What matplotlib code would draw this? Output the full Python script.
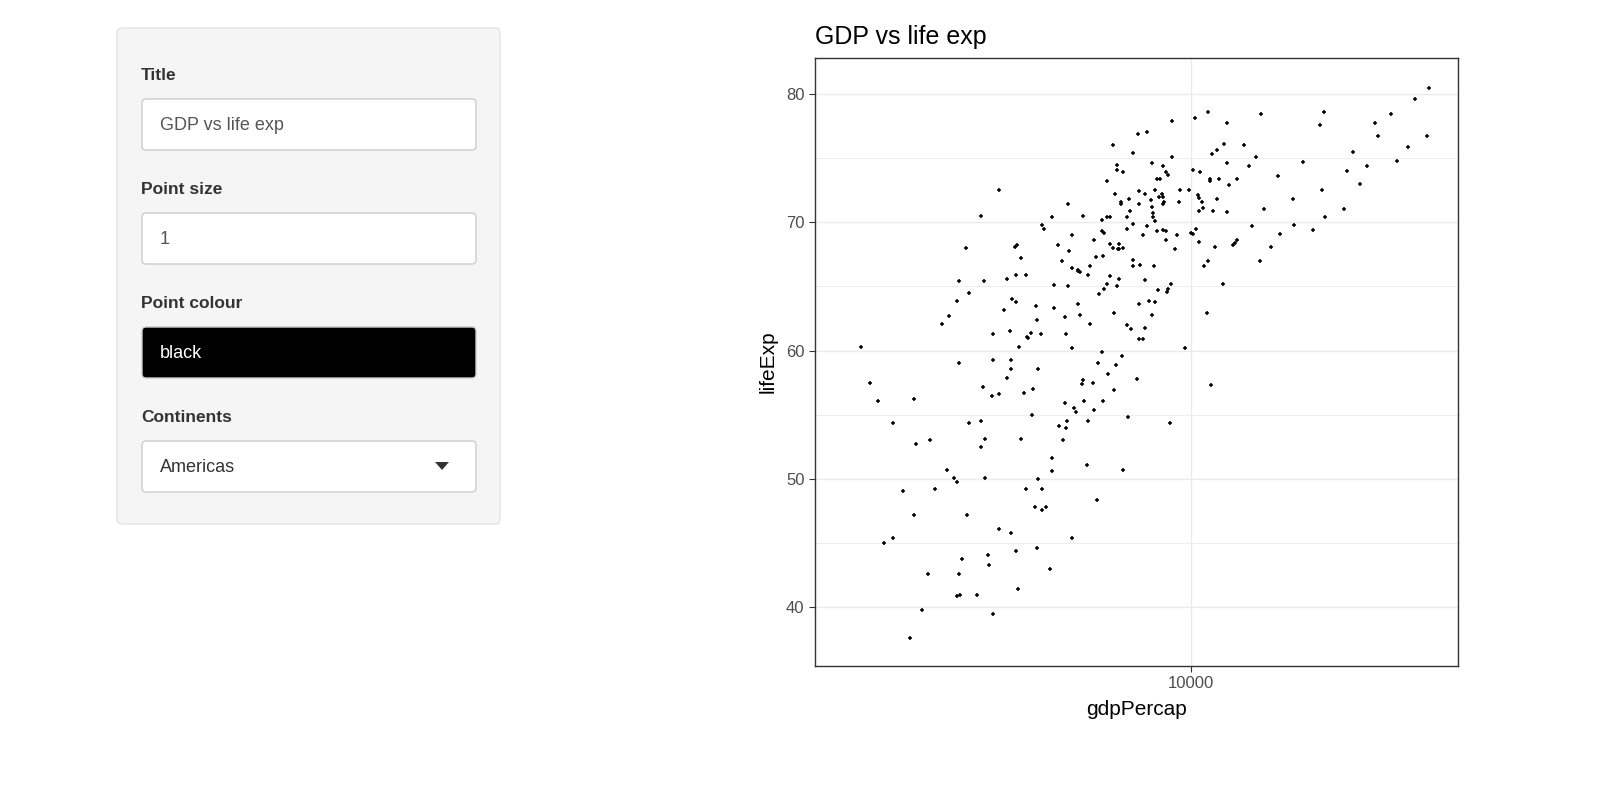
import matplotlib
matplotlib.use("Agg")
import matplotlib.pyplot as plt
from matplotlib.patches import FancyBboxPatch, Polygon

plt.rcParams["font.family"] = ["Liberation Sans", "DejaVu Sans"]

# values (Americas, gdpPercap vs lifeExp)
gdp_percap = [
    1330, 2420, 2990, 2990, 3340, 3340, 3250, 3500, 3680, 1410, 1480, 1840, 2800, 2960,
    3090, 3600, 1620, 2580, 2780, 3780, 1860, 2030, 2850, 2780, 3550, 2250, 2350, 2400,
    2850, 1720, 2090, 3660, 1840, 2550, 3090, 3340, 3430, 1530, 1620, 2470, 2900, 2920,
    2010, 2420, 2390, 2440, 2710, 3470, 1930, 2990, 1800,
    3090, 2780, 2530, 3410, 3460, 3550, 2420, 2820, 3250, 3440, 3660, 2570, 2400, 2280,
    2180, 3310, 3360, 3440, 3200,
    7250, 7660, 6220, 7030, 8920, 7890, 6370, 6370, 6610, 8450, 8610, 8700, 10150, 10590,
    11250, 11250, 11890, 11400, 11750, 12270, 12500, 12650, 12500, 5990, 8130, 8290, 6300,
    7290, 7560, 8040, 8390, 8240, 8460, 8500, 8460, 7890, 7850, 6530, 6530, 6850, 7290,
    9370, 9910, 10470, 10520, 10740, 10810, 9310, 10520, 11480, 4720, 5170, 4280, 4030,
    4090, 6900, 6770, 5820, 5990, 6100, 7030, 7950, 7950, 8040, 7650, 6770, 5820, 5900,
    8450, 8610, 8130, 7470, 9200, 10020, 10150, 10340, 10520, 8610, 9100, 11600, 11120,
    10860, 12190, 11070, 4840, 4450, 4750, 5540, 6110, 6220, 6400, 6470, 6610, 6470, 5610,
    5840, 7030, 7030, 7330, 8000, 4550, 4840, 5020, 5090, 5020, 5400, 5330, 6110, 6470,
    5990, 6370, 5900, 5710, 7560, 8180, 8630, 8700, 8890, 4340, 4720, 3880, 4340, 5020,
    5090, 3900, 4640, 5400, 6270, 7290, 7760, 8060, 7890, 6770, 6950, 7580, 7280, 7470,
    3770, 3700, 4010, 4670,
    9660, 4840, 5820, 6580, 3930, 5680, 6340, 6030, 7210, 5170, 5130, 5510, 3810, 6270,
    4640, 5210, 5850, 4900, 4950, 5540, 6820, 8820, 4690, 5330, 4470, 4660, 4580, 4280,
    5310, 6610, 4280, 3930, 4030, 5630,
    3850, 4040, 4130, 4840, 3910, 4230,
    43010, 39480, 34090, 30900, 31480, 42480, 37810, 35360, 29430, 27010, 26030, 28190,
    22620, 22080, 19890, 17080, 22350, 18720, 25560, 22760, 18830, 21150, 15670, 17290,
    16360, 15290, 14560, 15390, 13870, 14920, 14300, 13280, 12500, 11130, 10270, 11750,
    12960, 13090, 13280, 11330, 8920,
]
life_exp = [
    60.3, 59.0, 61.3, 59.3, 59.3, 58.6, 57.9, 60.3, 61.1, 57.5, 56.1, 56.2, 57.2, 56.5,
    56.6, 56.7, 54.4, 54.4, 54.5, 55.0, 52.7, 53.0, 53.1, 52.5, 53.1, 50.7, 50.1, 49.8,
    50.1, 49.1, 49.2, 49.2, 47.2, 47.2, 46.1, 45.8, 44.4, 45.0, 45.4, 43.8, 44.1, 43.3,
    42.6, 42.6, 40.9, 41.0, 41.0, 41.4, 39.8, 39.5, 37.6,
    72.5, 70.5, 68.0, 68.1, 68.2, 67.2, 65.4, 65.4, 65.6, 65.9, 65.9, 64.5, 63.9, 62.7,
    62.1, 61.5, 64.0, 63.8, 63.2,
    76.9, 77.0, 76.0, 75.4, 75.1, 74.6, 74.5, 74.1, 73.9, 74.4, 73.9, 73.7, 74.1, 73.9,
    73.4, 73.2, 73.4, 75.3, 75.6, 76.1, 74.6, 72.9, 70.8, 73.2, 73.4, 73.4, 72.2,
    72.4, 72.2, 72.5, 72.2, 72.0, 72.0, 71.6, 71.4, 71.2, 71.7, 71.6, 71.4, 71.8, 71.4,
    72.5, 72.5, 72.1, 71.9, 71.6, 71.1, 71.6, 70.9, 70.9, 71.4, 70.5, 70.4, 69.8,
    69.5, 70.9, 70.4, 70.2, 70.4, 70.4, 69.9, 70.7, 70.4, 70.1, 69.7, 69.5, 69.3, 69.2,
    69.4, 69.3, 69.3, 69.0, 69.0, 69.2, 69.1, 69.5, 68.5, 68.6, 67.9, 68.1, 67.0,
    66.6, 65.2, 62.9, 69.0, 68.2, 67.8, 68.6, 68.3, 68.0, 67.9, 67.9, 68.0, 68.3, 67.3,
    67.4, 67.1, 66.6, 66.7, 66.6, 67.0, 66.4, 66.3, 66.1, 66.2, 66.6, 65.9, 65.8, 65.6,
    65.2, 65.0, 64.8, 64.4, 65.5, 64.7, 64.6, 64.8, 65.2, 65.1, 65.0, 63.5, 63.3, 63.6,
    62.8, 62.4, 62.6, 62.1, 62.9, 63.6, 63.9, 63.8, 62.8, 62.0, 61.7, 61.8, 60.9, 60.9,
    61.4, 61.0, 61.3, 61.3,
    60.2, 60.2, 59.9, 59.6, 58.6, 59.0, 58.9, 58.2, 57.8, 57.7, 57.4, 57.5, 57.0, 56.9,
    55.9, 56.1, 56.1, 55.5, 55.2, 55.4, 54.8, 54.4, 54.5, 54.5, 54.1, 54.0, 53.0, 51.6,
    51.1, 50.7, 50.6, 50.0, 49.2, 48.4,
    47.8, 47.6, 47.8, 45.4, 44.6, 43.0,
    80.5, 79.6, 78.4, 77.7, 76.7, 76.7, 75.9, 74.8, 74.4, 75.5, 74.0, 73.0,
    78.6, 77.6, 74.7, 73.6, 72.5, 71.8, 71.0, 70.4, 69.8, 69.4, 71.0, 69.1,
    68.1, 67.0, 69.7, 78.4, 76.0, 75.1, 74.4, 73.4, 77.7, 78.6, 78.1, 71.8,
    68.2, 68.4, 68.6, 57.3, 77.9,
]

y_ticks = [40, 50, 60, 70, 80]
x_ticks = [10000]
x_tick_labels = ["10000"]

W, H = 1600, 790
fig = plt.figure(figsize=(W / 100, H / 100), dpi=100)

# ---- sidebar (input panel), drawn in pixel coordinates
side = fig.add_axes([0, 0, 1, 1])
side.set_xlim(0, W)
side.set_ylim(H, 0)
side.axis("off")

side.add_patch(FancyBboxPatch((117, 28), 383, 496, boxstyle="round,pad=0,rounding_size=5",
                              fc="#f5f5f5", ec="#e3e3e3", lw=1))

labels = ["Title", "Point size", "Point colour", "Continents"]
values = ["GDP vs life exp", "1", "black", "Americas"]
for i, (lab, val) in enumerate(zip(labels, values)):
    y0 = 75 + i * 114
    side.text(141, y0, lab, fontsize=12.5, fontweight="bold", color="#333333", va="center")
    box_fc = "black" if lab == "Point colour" else "white"
    txt_c = "white" if lab == "Point colour" else ("#333333" if lab == "Continents" else "#555555")
    side.add_patch(FancyBboxPatch((142, y0 + 24), 334, 51, boxstyle="round,pad=0,rounding_size=4",
                                  fc=box_fc, ec="#cccccc", lw=1))
    side.text(160, y0 + 51, val, fontsize=13, color=txt_c, va="center")
side.add_patch(Polygon([[435, 462], [449, 462], [442, 470]], closed=True, fc="#333333", ec="none"))

# ---- scatter plot
ax = fig.add_axes([815 / W, (H - 666) / H, 643 / W, 608 / H])
ax.set_xscale("log")
ax.scatter(gdp_percap, life_exp, marker="+", s=10, linewidths=1.1, color="black", zorder=3)
ax.set_xlim(10 ** 3.0018, 10 ** 4.7107)
ax.set_ylim(35.43, 82.80)

ax.set_xticks(x_ticks)
ax.set_xticklabels(x_tick_labels)
ax.set_xticks([], minor=True)
ax.set_yticks(y_ticks)
ax.set_yticks([45, 55, 65, 75], minor=True)
ax.tick_params(which="major", length=4, color="#333333", labelsize=12, labelcolor="#4d4d4d")
ax.tick_params(which="minor", length=0)
ax.grid(True, which="major", color="#ebebeb", lw=1)
ax.grid(True, which="minor", axis="y", color="#ebebeb", lw=0.6)
ax.set_axisbelow(True)
for s in ax.spines.values():
    s.set_color("#333333")
    s.set_linewidth(1)

ax.set_xlabel("gdpPercap", fontsize=15, labelpad=6)
ax.set_ylabel("lifeExp", fontsize=15, labelpad=6)
ax.set_title("GDP vs life exp", fontsize=18, loc="left", pad=10)

fig.savefig("out.png", dpi=100)
